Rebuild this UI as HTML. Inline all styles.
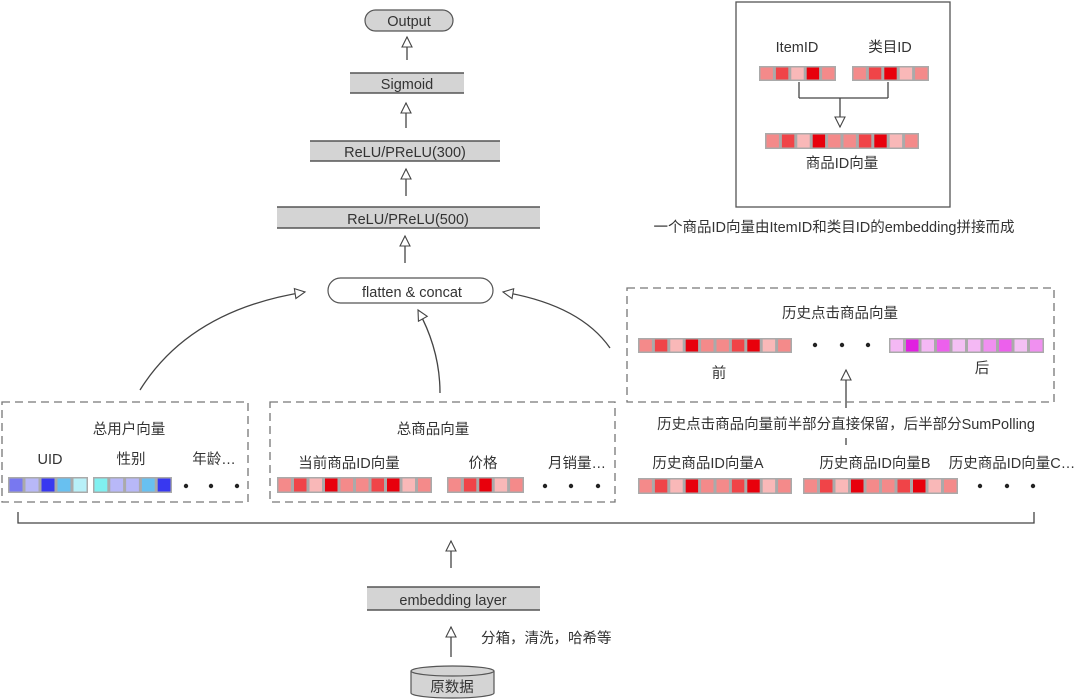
<!DOCTYPE html>
<html><head><meta charset="utf-8"><style>
html,body{margin:0;padding:0;background:#fff}
svg{display:block}
text{font-family:"Liberation Sans","Noto Sans CJK SC",sans-serif;fill:#333;font-size:14.5px}
</style></head><body>
<svg id="s" width="1080" height="700" viewBox="0 0 1080 700" xmlns="http://www.w3.org/2000/svg">
<defs>
<marker id="a" markerWidth="14" markerHeight="14" refX="11" refY="6" orient="auto" markerUnits="userSpaceOnUse">
<path d="M1,1 L11,6 L1,11 Z" fill="#fff" stroke="#444" stroke-width="1.1"/></marker>
</defs>
<g stroke="#444" stroke-width="1.3" fill="none">
<line x1="407" y1="60" x2="407" y2="37" marker-end="url(#a)"/>
<line x1="406" y1="128" x2="406" y2="103" marker-end="url(#a)"/>
<line x1="406" y1="196" x2="406" y2="169" marker-end="url(#a)"/>
<line x1="405" y1="263" x2="405" y2="236" marker-end="url(#a)"/>
<path d="M140,390 Q190,310 305,292" marker-end="url(#a)"/>
<path d="M440,393 Q440,350 418,310" marker-end="url(#a)"/>
<path d="M610,348 Q580,305 503,292" marker-end="url(#a)"/>
<line x1="451" y1="568" x2="451" y2="541" marker-end="url(#a)"/>
<line x1="451" y1="657" x2="451" y2="627" marker-end="url(#a)"/>
<line x1="846" y1="408" x2="846" y2="370" marker-end="url(#a)"/>
<line x1="846" y1="438" x2="846" y2="445"/>
<line x1="799" y1="82" x2="799" y2="98"/><line x1="888" y1="82" x2="888" y2="98"/>
<line x1="799" y1="98" x2="888" y2="98"/>
<line x1="840" y1="98" x2="840" y2="127" marker-end="url(#a)"/>
<path d="M18,512 L18,523 L1034,523 L1034,512"/>
</g>
<rect x="736" y="2" width="214" height="205" fill="none" stroke="#555" stroke-width="1.3"/>
<g stroke="#777" stroke-width="1.3" fill="none" stroke-dasharray="8,5">
<rect x="2" y="402" width="246" height="100"/>
<rect x="270" y="402" width="345" height="100"/>
<rect x="627" y="288" width="427" height="114"/>
</g>
<rect x="365" y="10" width="88" height="21" rx="10.5" fill="#d4d4d4" stroke="#555" stroke-width="1.2"/>
<text x="409" y="26" text-anchor="middle" font-size="17">Output</text>
<rect x="328" y="278" width="165" height="25" rx="12.5" fill="#fff" stroke="#555" stroke-width="1.2"/>
<text x="412" y="297" text-anchor="middle" font-size="18">flatten &amp; concat</text>
<g id="layers"></g>
<text x="407" y="89" text-anchor="middle" font-size="17">Sigmoid</text>
<text x="405" y="157" text-anchor="middle" font-size="17">ReLU/PReLU(300)</text>
<text x="408" y="224" text-anchor="middle" font-size="17">ReLU/PReLU(500)</text>
<text x="453" y="605" text-anchor="middle" font-size="17">embedding layer</text>
<path d="M411,671 L411,693 A41.5,5 0 0 0 494,693 L494,671" fill="#d4d4d4" stroke="#555" stroke-width="1.2"/>
<ellipse cx="452.5" cy="671" rx="41.5" ry="5" fill="#d4d4d4" stroke="#555" stroke-width="1.2"/>
<text x="452" y="692" text-anchor="middle" font-size="17">原数据</text>
<text x="481" y="643" font-size="14">分箱，清洗，哈希等</text>
<text x="797" y="52" text-anchor="middle">ItemID</text>
<text x="890" y="52" text-anchor="middle">类目ID</text>
<text x="842" y="168" text-anchor="middle">商品ID向量</text>
<text x="834" y="232" text-anchor="middle" font-size="15.5">一个商品ID向量由ItemID和类目ID的embedding拼接而成</text>
<text x="129" y="434" text-anchor="middle">总用户向量</text>
<text x="50" y="464" text-anchor="middle">UID</text>
<text x="131" y="464" text-anchor="middle">性别</text>
<text x="214" y="464" text-anchor="middle">年龄…</text>
<text x="433" y="434" text-anchor="middle">总商品向量</text>
<text x="349" y="468" text-anchor="middle">当前商品ID向量</text>
<text x="483" y="468" text-anchor="middle">价格</text>
<text x="577" y="468" text-anchor="middle">月销量…</text>
<text x="840" y="318" text-anchor="middle">历史点击商品向量</text>
<text x="719" y="378" text-anchor="middle">前</text>
<text x="982" y="373" text-anchor="middle">后</text>
<text x="846" y="429" text-anchor="middle" font-size="15.5">历史点击商品向量前半部分直接保留，后半部分SumPolling</text>
<text x="708" y="468" text-anchor="middle">历史商品ID向量A</text>
<text x="875" y="468" text-anchor="middle">历史商品ID向量B</text>
<text x="1012" y="468" text-anchor="middle">历史商品ID向量C…</text>
<g id="cells"></g>
</svg>
<script>
var NS="http://www.w3.org/2000/svg";
function el(p,t,a){var e=document.createElementNS(NS,t);for(var k in a)e.setAttribute(k,a[k]);p.appendChild(e);return e;}
var L=document.getElementById('layers');
[[350,73,114,20],[310,141,190,20],[277,207,263,21],[367,587,173,23]].forEach(function(b){
el(L,'rect',{x:b[0],y:b[1],width:b[2],height:b[3],fill:'#d4d4d4'});
el(L,'line',{x1:b[0],y1:b[1],x2:b[0]+b[2],y2:b[1],stroke:'#555','stroke-width':1.5});
el(L,'line',{x1:b[0],y1:b[1]+b[3],x2:b[0]+b[2],y2:b[1]+b[3],stroke:'#555','stroke-width':1.5});});
var C=document.getElementById('cells');
var R=['#f48a8a','#f04448','#f9b8b8','#e8000c','#f48a8a','#f48a8a','#f04448','#e8000c','#f9b8b8','#f48a8a'];
var R5=['#f48a8a','#f04448','#f9b8b8','#e8000c','#f48a8a'];
var R5b=['#f48a8a','#f04448','#e8000c','#f9b8b8','#f48a8a'];
var P=['#f4b8f4','#e020e0','#f4b8f4','#ec60ec','#f4c0f4','#f4b8f4','#f090f0','#ec60ec','#f4c0f4','#f090f0'];
var B1=['#7878f0','#b8b8f8','#3838f0','#68c0f0','#b8f0f8'],B2=['#80f0f0','#b8b8f8','#b8b8f8','#68c0f0','#3838f0'];
function row(x0,x1,y,h,cols){var w=(x1-x0)/cols.length;
el(C,'rect',{x:x0,y:y,width:x1-x0,height:h,fill:'#aaa'});
cols.forEach(function(c,i){el(C,'rect',{x:x0+i*w+1.5,y:y+1.5,width:w-3,height:h-3,fill:c});});}
row(759,836,66,15,R5);row(852,929,66,15,R5b);row(765,919,133,16,R);
row(8,88,477,16,B1);row(93,172,477,16,B2);
row(277,432,477,16,R);row(447,524,477,16,R5b);
row(638,792,338,15,R);row(889,1044,338,15,P);
row(638,792,478,16,R);row(803,958,478,16,R);
function dots(xs,y){xs.forEach(function(x){el(C,'circle',{cx:x,cy:y,r:2.2,fill:'#222'});});}
dots([186,211,237],486);dots([545,571,598],486);dots([815,842,868],345);dots([980,1007,1033],486);
</script>
</body></html>
